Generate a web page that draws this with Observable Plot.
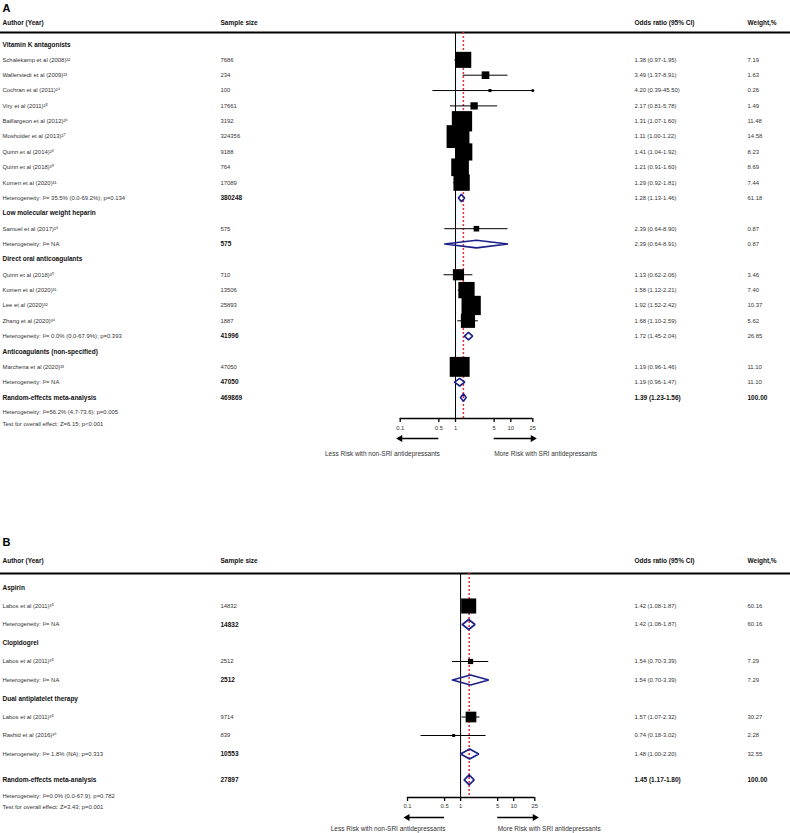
<!DOCTYPE html>
<html><head><meta charset="utf-8">
<script src="https://cdn.jsdelivr.net/npm/d3@7"></script>
<script src="https://cdn.jsdelivr.net/npm/@observablehq/plot@0.6"></script>
<style>body{margin:0;background:#fff;} svg{display:block;}</style>
</head><body><div id="chart"></div>
<script>
// ---------- Panel A data ----------
const aGroups = ["Vitamin K antagonists", "Low molecular weight heparin", "Direct oral anticoagulants", "Anticoagulants (non-specified)"];
const aStudyLabel = ["Schalekamp et al (2008)²²", "Wallerstedt et al (2009)²³", "Cochran et al (2011)²⁴", "Viry et al (2011)²⁵", "Baillargeon et al (2012)²⁶", "Mosholder et al (2013)²⁷", "Quinn et al (2014)²⁸", "Quinn et al (2018)³⁰", "Komen et al (2020)³¹", "Samuel et al (2017)²⁹", "Quinn et al (2018)³⁰", "Komen et al (2020)³¹", "Lee et al (2020)³²", "Zhang et al (2020)³⁴", "Marchena et al (2020)³³"];
const aStudyGroup = [0,0,0,0,0,0,0,0,0, 1, 2,2,2,2, 3];
const aStudyN = [7686, 234, 100, 17661, 3192, 324356, 9188, 764, 17089, 575, 710, 13506, 25893, 1887, 47050];
const aStudyOR = [1.38, 3.49, 4.20, 2.17, 1.31, 1.11, 1.41, 1.21, 1.29, 2.39, 1.13, 1.58, 1.92, 1.68, 1.19];
const aStudyLo = [0.97, 1.37, 0.39, 0.81, 1.07, 1.00, 1.04, 0.91, 0.92, 0.64, 0.62, 1.12, 1.52, 1.10, 0.96];
const aStudyHi = [1.95, 8.91, 45.50, 5.78, 1.60, 1.22, 1.92, 1.60, 1.81, 8.90, 2.06, 2.21, 2.42, 2.59, 1.46];
const aStudyW = [7.19, 1.63, 0.26, 1.49, 11.48, 14.58, 8.23, 8.69, 7.44, 0.87, 3.46, 7.40, 10.37, 5.62, 11.10];
const aSumLabel = ["Heterogeneity: I²= 35.5% (0.0-69.2%); p=0.134", "Heterogeneity: I²= NA", "Heterogeneity: I²= 0.0% (0.0-67.9%); p=0.393", "Heterogeneity: I²= NA"];
const aSumN = [380248, 575, 41996, 47050];
const aSumOR = [1.28, 2.39, 1.72, 1.19];
const aSumLo = [1.13, 0.64, 1.45, 0.96];
const aSumHi = [1.46, 8.91, 2.04, 1.47];
const aSumW = [61.18, 0.87, 26.85, 11.10];
const aOverallLabel = ["Random-effects meta-analysis"];
const aOverallN = [469869];
const aOverallOR = [1.39];
const aOverallLo = [1.23];
const aOverallHi = [1.56];
const aOverallW = [100.00];
const aFooter = ["Heterogeneity: I²=56.2% (4.7-73.6); p=0.005", "Test for overall effect: Z=6.15; p<0.001"];

// ---------- Panel B data ----------
const bGroups = ["Aspirin", "Clopidogrel", "Dual antiplatelet therapy"];
const bStudyLabel = ["Labos et al (2011)³⁵", "Labos et al (2011)³⁵", "Labos et al (2011)³⁵", "Rashid et al (2016)³⁶"];
const bStudyGroup = [0, 1, 2, 2];
const bStudyN = [14832, 2512, 9714, 839];
const bStudyOR = [1.42, 1.54, 1.57, 0.74];
const bStudyLo = [1.08, 0.70, 1.07, 0.18];
const bStudyHi = [1.87, 3.39, 2.32, 3.02];
const bStudyW = [60.16, 7.29, 30.27, 2.28];
const bSumLabel = ["Heterogeneity: I²= NA", "Heterogeneity: I²= NA", "Heterogeneity: I²= 1.8% (NA); p=0.313"];
const bSumN = [14832, 2512, 10553];
const bSumOR = [1.42, 1.54, 1.48];
const bSumLo = [1.08, 0.70, 1.00];
const bSumHi = [1.87, 3.39, 2.20];
const bSumW = [60.16, 7.29, 32.55];
const bOverallLabel = ["Random-effects meta-analysis"];
const bOverallN = [27897];
const bOverallOR = [1.45];
const bOverallLo = [1.17];
const bOverallHi = [1.80];
const bOverallW = [100.00];
const bFooter = ["Heterogeneity: I²=0.0% (0.0-67.9); p=0.782", "Test for overall effect: Z=3.43; p=0.001"];

// ---------- shared labels ----------
const headers = ["Author (Year)", "Sample size", "Odds ratio (95% CI)", "Weight,%"];
const tickValues = [0.1, 0.5, 1, 5, 10, 25];
const tickLabels = ["0.1", "0.5", "1", "5", "10", "25"];
const arrowLabels = ["Less Risk with non-SRI antidepressants", "More Risk with SRI antidepressants"];

// ---------- build rows ----------
function buildRows(groups, sl, sg, sn, sor, slo, shi, sw, ml, mn, mor, mlo, mhi, mw, ol, on, oor, olo, ohi, ow, overallGap) {
  const rows = [];
  let r = 0;
  groups.forEach((g, gi) => {
    rows.push({type: "group", label: g, row: r++});
    sl.forEach((lab, i) => {
      if (sg[i] === gi) rows.push({type: "study", label: lab, n: sn[i], or: sor[i], lo: slo[i], hi: shi[i], w: sw[i], row: r++});
    });
    rows.push({type: "summary", label: ml[gi], n: mn[gi], or: mor[gi], lo: mlo[gi], hi: mhi[gi], w: mw[gi], row: r++});
  });
  rows.push({type: "overall", label: ol[0], n: on[0], or: oor[0], lo: olo[0], hi: ohi[0], w: ow[0], row: r + overallGap});
  return rows;
}

const FONT = "'Liberation Sans', Arial, sans-serif";
const NAVY = "#1b1f8a";
const RED = "#e0303a";
const FS = 5.9;
const FSB = 6.5;
const FSA = 6.5;
const TXT = "#333";

function makePanel(cfg) {
  const rows = cfg.rows;
  const toRow = p => (p - cfg.yFirst) / cfg.rowH;
  const lineRow = toRow(cfg.lineY), axisRow = toRow(cfg.axisY);
  const studies = rows.filter(d => d.type === "study");
  const sums = rows.filter(d => d.type === "summary" || d.type === "overall");
  const orText = d => `${d.or.toFixed(2)} (${d.lo.toFixed(2)}-${d.hi.toFixed(2)})`;
  const dh = cfg.diamondPx / cfg.rowH;
  const diamondPts = sums.flatMap((d, i) => [
    {id: i, x: d.lo, y: d.row}, {id: i, x: d.or, y: d.row - dh}, {id: i, x: d.hi, y: d.row},
    {id: i, x: d.or, y: d.row + dh}, {id: i, x: d.lo, y: d.row}
  ]);
  const clampHi = d => Math.min(d.hi, 25);
  const truncated = studies.filter(d => d.hi > 25);
  const wMax = d3.max(studies, d => d.w);
  const cols = [2, 220, 634, 747];
  const txt = (data, colIdx, text, bold) => Plot.text(data, {
    y: "row", text, frameAnchor: "left", dx: cols[colIdx], textAnchor: "start",
    fontSize: bold ? FSB : FS, fontWeight: bold ? "bold" : "normal", fill: bold ? "#111" : TXT
  });
  const isG = d => d.type === "group", isS = d => d.type === "study", isM = d => d.type === "summary", isO = d => d.type === "overall";
  const headerRow = toRow(cfg.headerY);
  const arrowRow = toRow(cfg.arrowY);
  const tickData = tickValues.map((v, i) => ({v, label: tickLabels[i]}));
  const arrowShafts = [{x1: 0.5, x2: 0.1}, {x1: 5, x2: 25}];
  const arrowHeads = [{x: 0.1, rot: -90}, {x: 25, rot: 90}];

  return Plot.plot({
    width: 790, height: cfg.height, margin: 0,
    style: {fontFamily: FONT, background: "#fff", overflow: "visible"},
    x: {type: "log", domain: [0.1, 25], range: cfg.xRange, axis: null},
    y: {type: "linear", domain: [0, 1], range: [cfg.yFirst, cfg.yFirst + cfg.rowH], axis: null},
    r: {type: "sqrt", domain: [0, wMax], range: [0, cfg.rMax]},
    marks: [
      // panel letter & headers
      Plot.text([cfg.letter], {frameAnchor: "left", dx: 2, y: () => toRow(cfg.letterY), text: d => d, fontSize: 11, fontWeight: "bold", textAnchor: "start"}),
      ...headers.map((h, i) => Plot.text([h], {frameAnchor: "left", dx: cols[i], y: () => headerRow, text: d => d, fontSize: FSB, fontWeight: "bold", textAnchor: "start", fill: "#111"})),
      Plot.ruleY([lineRow], {y: d => d, strokeWidth: 1.8, stroke: "#000"}),
      // reference lines
      Plot.ruleX([1], {x: d => d, y1: lineRow, y2: axisRow, stroke: "#000", strokeWidth: 1}),
      Plot.ruleX([cfg.pooled], {x: d => d, y1: lineRow, y2: axisRow, stroke: RED, strokeWidth: 1.5, strokeDasharray: "2,2"}),
      // whiskers and squares
      Plot.ruleY(studies, {y: "row", x1: "lo", x2: clampHi, stroke: "#000", strokeWidth: 1}),
      Plot.dot(truncated, {x: () => 25, y: "row", r: 1.5, fill: "#000"}),
      Plot.dot(studies, {x: "or", y: "row", r: "w", symbol: "square", fill: "#000", stroke: null}),
      // diamonds
      Plot.line(diamondPts, {x: "x", y: "y", z: "id", stroke: NAVY, strokeWidth: 1.6, strokeLinejoin: "miter", curve: "linear"}),
      // text columns
      txt(rows.filter(isG), 0, "label", true),
      txt(rows.filter(d => isS(d) || isM(d)), 0, "label", false),
      txt(rows.filter(isO), 0, "label", true),
      txt(rows.filter(isS), 1, d => String(d.n), false),
      txt(rows.filter(d => isM(d) || isO(d)), 1, d => String(d.n), true),
      txt(rows.filter(d => isS(d) || isM(d)), 2, orText, false),
      txt(rows.filter(isO), 2, orText, true),
      txt(rows.filter(d => isS(d) || isM(d)), 3, d => d.w.toFixed(2), false),
      txt(rows.filter(isO), 3, d => d.w.toFixed(2), true),
      // footer
      Plot.text(cfg.footer, {frameAnchor: "left", dx: 2, y: (d, i) => toRow(cfg.footerY[i]), text: d => d, fontSize: FS, textAnchor: "start", fill: TXT}),
      // axis
      Plot.ruleY([axisRow], {y: d => d, x1: 0.1, x2: 25, stroke: "#000", strokeWidth: 1.3}),
      Plot.ruleX(tickData, {x: "v", y1: axisRow, y2: toRow(cfg.axisY + 4), stroke: "#000", strokeWidth: 1.3}),
      Plot.text(tickData, {x: "v", y: () => toRow(cfg.tickLabelY), text: "label", fontSize: 5.8, fill: TXT}),
      // arrows
      Plot.ruleY(arrowShafts, {y: () => arrowRow, x1: "x1", x2: "x2", stroke: "#000", strokeWidth: 1.5}),
      Plot.dot(arrowHeads, {x: "x", y: () => arrowRow, symbol: "triangle", rotate: "rot", r: 2.6, fill: "#000"}),
      Plot.text([arrowLabels[0]], {x: () => 0.5, y: () => toRow(cfg.arrowLabelY), text: d => d, textAnchor: "end", dx: 1, fontSize: FSA, fill: TXT}),
      Plot.text([arrowLabels[1]], {x: () => 5, y: () => toRow(cfg.arrowLabelY), text: d => d, textAnchor: "start", fontSize: FSA, fill: TXT})
    ]
  });
}

const rowsA = buildRows(aGroups, aStudyLabel, aStudyGroup, aStudyN, aStudyOR, aStudyLo, aStudyHi, aStudyW,
  aSumLabel, aSumN, aSumOR, aSumLo, aSumHi, aSumW, aOverallLabel, aOverallN, aOverallOR, aOverallLo, aOverallHi, aOverallW, 0);
const rowsB = buildRows(bGroups, bStudyLabel, bStudyGroup, bStudyN, bStudyOR, bStudyLo, bStudyHi, bStudyW,
  bSumLabel, bSumN, bSumOR, bSumLo, bSumHi, bSumW, bOverallLabel, bOverallN, bOverallOR, bOverallLo, bOverallHi, bOverallW, 0.4);

const panelA = makePanel({
  letter: "A", rows: rowsA, height: 470, yFirst: 44, rowH: 15.35, xRange: [399.7, 532.3],
  letterY: 7.5, headerY: 22, lineY: 32, axisY: 418, tickLabelY: 428, arrowY: 438, arrowLabelY: 453,
  footer: aFooter, footerY: [412, 424], pooled: aOverallOR[0], rMax: 12.9, diamondPx: 3.8
});
const panelB = makePanel({
  letter: "B", rows: rowsB, height: 363, yFirst: 117, rowH: 18.5, xRange: [407, 534.3],
  letterY: 72, headerY: 90, lineY: 103, axisY: 327, tickLabelY: 336, arrowY: 347, arrowLabelY: 358,
  footer: bFooter, footerY: [326, 337], pooled: bOverallOR[0], rMax: 8.5, diamondPx: 5
});
const chart = document.getElementById("chart");
chart.appendChild(panelA);
chart.appendChild(panelB);
</script>
</body></html>
